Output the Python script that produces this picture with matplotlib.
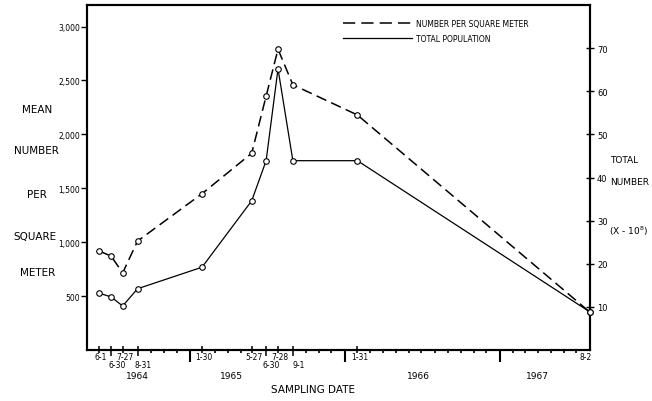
import matplotlib
matplotlib.use("Agg")
import matplotlib.pyplot as plt
import matplotlib.dates as mdates
from matplotlib.lines import Line2D
from matplotlib.transforms import blended_transform_factory
import datetime as dt

# ---------------- data ----------------
sample_dates = ["1964-06-01", "1964-06-30", "1964-07-27", "1964-08-31",
                "1965-01-30", "1965-05-27", "1965-06-30", "1965-07-28",
                "1965-09-01", "1966-01-31", "1967-08-02"]
sample_labels = ["6-1", "6-30", "7-27", "8-31", "1-30", "5-27", "6-30",
                 "7-28", "9-1", "1-31", "8-2"]
label_row = [0, 1, 0, 1, 0, 0, 1, 0, 1, 0, 0]   # 0 = upper row, 1 = lower row
per_sq_m = [920, 870, 715, 1010, 1450, 1825, 2355, 2790, 2460, 2180, 350]
total_pop = [13.2, 12.3, 10.2, 14.2, 19.2, 34.6, 43.9, 65.2, 43.9, 43.9, 8.8]
left_ticks = [500, 1000, 1500, 2000, 2500, 3000]
left_ticklabels = ["500", "1,000", "1,500", "2,000", "2,500", "3,000"]
right_ticks = [10, 20, 30, 40, 50, 60, 70]
year_labels = ["1964", "1965", "1966", "1967"]
year_label_dates = ["1964-08-31", "1965-04-10", "1966-06-25", "1967-04-01"]
year_starts = ["1965-01-01", "1966-01-01", "1967-01-01"]

def d(s):
    return mdates.date2num(dt.datetime.strptime(s, "%Y-%m-%d"))

xs = [d(s) for s in sample_dates]

W, H = 652, 402
fig = plt.figure(figsize=(W / 100, H / 100), dpi=100)
plt.rcParams['font.family'] = ['DejaVu Sans']
ax = fig.add_axes([87 / W, (H - 351) / H, (590 - 87) / W, (351 - 6) / H])
ax2 = ax.twinx()

lw_sp = 1.5
for a in (ax, ax2):
    for s in a.spines.values():
        s.set_linewidth(lw_sp)

ax.set_xlim(d("1964-05-04"), d("1967-08-02"))
ax.set_ylim(0, 3200)
ax2.set_ylim(0, 80)

mk = dict(marker="o", markersize=4, markerfacecolor="white",
          markeredgecolor="black", markeredgewidth=0.8, clip_on=False)
ax.plot(xs, per_sq_m, color="black", lw=1.1, linestyle=(0, (7, 3.5)), **mk, zorder=3)
ax2.plot(xs, total_pop, color="black", lw=0.9, linestyle="-", **mk, zorder=3)

# left axis
ax.set_yticks(left_ticks)
ax.set_yticklabels(left_ticklabels, fontsize=5.5)
ax.tick_params(axis="y", direction="out", length=4, width=1, pad=1)
# right axis
ax2.set_yticks(right_ticks)
ax2.set_yticklabels([str(v) for v in right_ticks], fontsize=6)
ax2.tick_params(axis="y", direction="inout", length=6, width=1, pad=2)

# x axis: no default tick labels
ax.set_xticks([])
ax.xaxis.set_ticks_position("none")
trans = blended_transform_factory(ax.transData, ax.transAxes)

# monthly minor ticks
months = []
for y in range(1964, 1968):
    for m in range(1, 13):
        months.append(mdates.date2num(dt.datetime(y, m, 1)))
ys_start = [d(s) for s in year_starts]
xmin, xmax = ax.get_xlim()
for mv in months:
    if mv <= xmin or mv >= xmax:
        continue
    if any(abs(mv - ysv) < 1 for ysv in ys_start):
        continue
    if any(abs(mv - sv) < 8 for sv in xs):
        continue
    ax.plot([mv, mv], [0, -0.008], transform=trans, color="black",
            lw=1.2, clip_on=False, solid_capstyle="butt")

# year-boundary ticks
for ysv in ys_start:
    ax.plot([ysv, ysv], [-0.003, -0.036], transform=trans, color="black",
            lw=1.5, clip_on=False, solid_capstyle="butt")

# sample ticks and labels
for xv, lab, row in zip(xs, sample_labels, label_row):
    if xv < xmax - 1:
        lo = -0.009 if row == 0 else -0.018
        ax.plot([xv, xv], [0.012, lo], transform=trans, color="black",
                lw=1.1, clip_on=False, solid_capstyle="butt")
    yoff = -4.5 if row == 0 else -10.5
    xoff = 1.5 if row == 0 else 4
    if xv >= xmax - 1:
        xoff = -3
    ax.annotate(lab, xy=(xv, 0), xycoords=trans, xytext=(xoff, yoff),
                textcoords="offset points", ha="center", va="center",
                fontsize=5.5)

# year labels
for lab, ds in zip(year_labels, year_label_dates):
    ax.annotate(lab, xy=(d(ds), 0), xycoords=trans, xytext=(0, -18.5),
                textcoords="offset points", ha="center", va="center",
                fontsize=6.5)

fig.text(313 / W, 1 - 390 / H, "SAMPLING DATE", ha="center", va="center", fontsize=7.5)

# left axis title words
for word, x, y in [("MEAN", 37, 110), ("NUMBER", 36, 151), ("PER", 37, 195),
                   ("SQUARE", 35, 237), ("METER", 38, 273)]:
    fig.text(x / W, 1 - y / H, word, ha="center", va="center", fontsize=7.5)

for word, x, y in [("TOTAL", 624, 161), ("NUMBER", 630, 183),
                   ("(X - 10$^{8}$)", 629, 231)]:
    fig.text(x / W, 1 - y / H, word, ha="center", va="center", fontsize=6.5)

handles = [Line2D([], [], color="black", lw=1.1, linestyle=(0, (8, 4))),
           Line2D([], [], color="black", lw=0.9)]
leg = ax.legend(handles, ["NUMBER PER SQUARE METER", "TOTAL POPULATION"],
                loc="upper left", bbox_to_anchor=(343 / W, 1 - 20 / H),
                bbox_transform=fig.transFigure, frameon=False, fontsize=5.5,
                handlelength=9, handletextpad=0.5, labelspacing=0.75,
                borderpad=0, borderaxespad=0)

fig.savefig("out.png", dpi=100)
